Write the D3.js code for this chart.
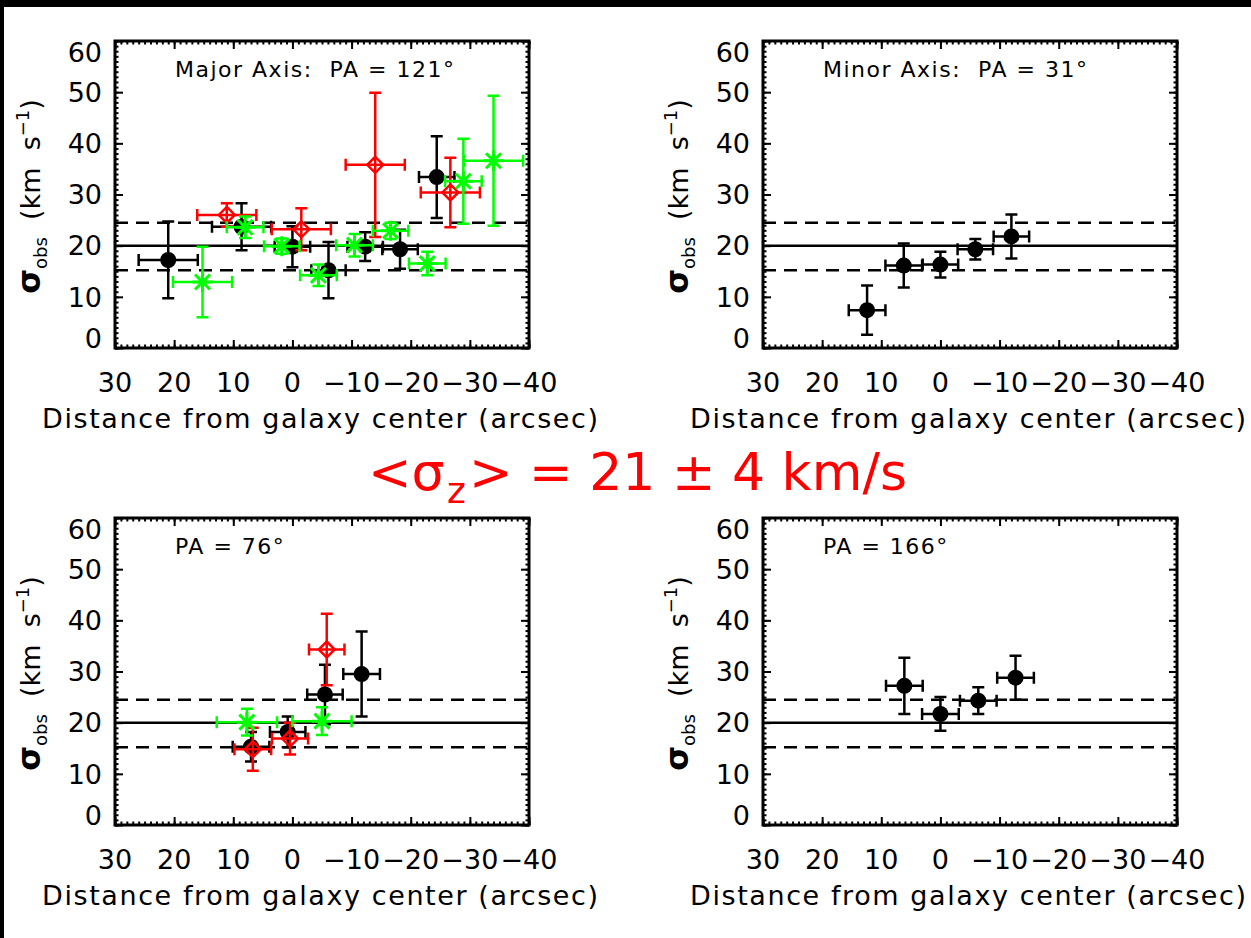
<!doctype html>
<html lang="en">
<head>
<meta charset="utf-8">
<script src="https://d3js.org/d3.v7.min.js"></script>
<style>
  body { margin: 0; background: #fff; }
  text { font-family: "DejaVu Sans", sans-serif; fill: black; }
</style>
</head>
<body>
<script>
// each row: [distance (arcsec), sigma_obs (km/s), x error, y error]
var majorBlack = [[21.0, 17.2, 5.0, 7.5], [8.6, 23.7, 5.0, 4.6], [0.0, 19.8, 3.0, 4.0],
                  [-6.1, 15.2, 2.9, 5.5], [-12.3, 19.8, 3.0, 2.8], [-18.2, 19.3, 3.0, 3.8],
                  [-24.4, 33.4, 3.0, 8.0]];
var majorRed = [[11.1, 26.0, 5.0, 2.3], [-1.5, 23.2, 5.0, 4.1], [-14.0, 35.8, 5.0, 14.1],
                [-26.7, 30.4, 5.0, 6.8]];
var majorGreen = [[15.2, 12.9, 5.0, 6.9], [8.0, 23.6, 3.1, 2.1], [1.8, 19.9, 3.0, 1.5],
                  [-4.4, 14.2, 3.1, 2.1], [-10.5, 20.1, 3.1, 2.2], [-16.6, 22.9, 3.0, 1.6],
                  [-22.8, 16.5, 3.1, 2.3], [-28.9, 32.6, 3.1, 8.3], [-34.0, 36.6, 5.0, 12.7]];
var minorBlack = [[12.4, 7.4, 3.1, 4.8], [6.2, 16.1, 3.1, 4.3], [0.0, 16.3, 3.0, 2.5],
                  [-5.9, 19.3, 3.0, 2.0], [-12.0, 21.8, 3.0, 4.3]];
var pa76Black = [[7.0, 15.3, 3.1, 2.9], [0.8, 18.2, 3.0, 3.0], [-5.5, 25.5, 3.0, 5.8],
                 [-11.7, 29.5, 3.1, 8.3]];
var pa76Red = [[6.7, 14.8, 3.1, 4.2], [0.4, 16.9, 3.05, 3.1], [-5.8, 34.3, 3.0, 7.0]];
var pa76Green = [[7.7, 20.1, 5.1, 2.6], [-5.0, 20.3, 5.0, 2.7]];
var pa166Black = [[6.1, 27.2, 3.1, 5.5], [0.0, 21.7, 3.1, 3.3], [-6.4, 24.3, 3.1, 2.6],
                  [-12.7, 28.8, 3.1, 4.3]];

var sigmaMean = 20, sigmaHi = 24.5, sigmaLo = 15.2;

var xTicks = [30, 20, 10, 0, -10, -20, -30, -40];
var xTickLabels = ["30", "20", "10", "0", "\u221210", "\u221220", "\u221230", "\u221240"];
var yTicks = [0, 10, 20, 30, 40, 50, 60];
var yTickLabels = ["0", "10", "20", "30", "40", "50", "60"];
var panelTitles = ["Major Axis:  PA = 121\u00b0", "Minor Axis:  PA = 31\u00b0", "PA = 76\u00b0", "PA = 166\u00b0"];

var width = 1251, height = 938;
var pw = 414, ph = 307;

var svg = d3.select("body").append("svg")
    .attr("width", width)
    .attr("height", height);

// black frame strips on top and left, as in the screenshot
svg.append("rect").attr("width", width).attr("height", height).attr("fill", "black");
svg.append("rect").attr("x", 4).attr("y", 7).attr("width", width).attr("height", height).attr("fill", "white");

var x = d3.scaleLinear().domain([30, -40]).range([0, pw]);
var y = d3.scaleLinear().domain([0, 60]).range([ph, 0]);

var panels = [
  {x0: 115, y0: 41, title: panelTitles[0], series: [[majorBlack, "black", "circle"], [majorRed, "#ff0000", "diamond"], [majorGreen, "#00ff00", "star"]]},
  {x0: 763, y0: 41, title: panelTitles[1], series: [[minorBlack, "black", "circle"]]},
  {x0: 115, y0: 518, title: panelTitles[2], series: [[pa76Black, "black", "circle"], [pa76Red, "#ff0000", "diamond"], [pa76Green, "#00ff00", "star"]]},
  {x0: 763, y0: 518, title: panelTitles[3], series: [[pa166Black, "black", "circle"]]}
];

function ticks(g, axisFn, scale, values, size, tx, ty) {
  g.append("g")
    .attr("transform", "translate(" + tx + "," + ty + ")")
    .call(axisFn(scale).tickValues(values).tickSize(size).tickFormat(""))
    .call(function(a) { a.select(".domain").remove(); })
    .selectAll("line").attr("stroke", "black").attr("stroke-width", 2);
}

panels.forEach(function(p) {
  var g = svg.append("g").attr("transform", "translate(" + p.x0 + "," + p.y0 + ")");

  // reference lines
  g.append("line").attr("x1", 0).attr("x2", pw).attr("y1", y(sigmaMean)).attr("y2", y(sigmaMean))
    .attr("stroke", "black").attr("stroke-width", 2.5);
  [sigmaHi, sigmaLo].forEach(function(v) {
    g.append("line").attr("x1", 0).attr("x2", pw).attr("y1", y(v)).attr("y2", y(v))
      .attr("stroke", "black").attr("stroke-width", 2.5).attr("stroke-dasharray", "13,8");
  });

  // data with error bars
  p.series.forEach(function(s) {
    var data = s[0], color = s[1], sym = s[2];
    var pts = g.append("g").selectAll("g").data(data).enter().append("g")
      .attr("stroke", color).attr("stroke-width", 2.5).attr("fill", "none");
    // horizontal error bar
    pts.append("path").attr("d", function(d) {
      var xa = x(d[0] + d[2]), xb = x(d[0] - d[2]), yy = y(d[1]);
      return "M" + xa + "," + yy + "H" + xb +
             "M" + xa + "," + (yy - 6) + "V" + (yy + 6) +
             "M" + xb + "," + (yy - 6) + "V" + (yy + 6);
    });
    // vertical error bar
    pts.append("path").attr("d", function(d) {
      var xx = x(d[0]), ya = y(d[1] + d[3]), yb = y(d[1] - d[3]);
      return "M" + xx + "," + ya + "V" + yb +
             "M" + (xx - 6) + "," + ya + "H" + (xx + 6) +
             "M" + (xx - 6) + "," + yb + "H" + (xx + 6);
    });
    if (sym === "circle") {
      pts.append("circle").attr("cx", function(d) { return x(d[0]); })
        .attr("cy", function(d) { return y(d[1]); })
        .attr("r", 8).attr("fill", color).attr("stroke", "none");
    } else if (sym === "diamond") {
      pts.append("path").attr("d", function(d) {
        var cx = x(d[0]), cy = y(d[1]);
        return "M" + cx + "," + (cy - 8) + "L" + (cx + 8) + "," + cy + "L" + cx + "," + (cy + 8) + "L" + (cx - 8) + "," + cy + "Z";
      });
    } else {
      pts.append("path").attr("stroke-width", 3).attr("d", function(d) {
        var cx = x(d[0]), cy = y(d[1]), r = 10, q = 7.5;
        return "M" + (cx - r) + "," + cy + "H" + (cx + r) +
               "M" + cx + "," + (cy - r) + "V" + (cy + r) +
               "M" + (cx - q) + "," + (cy - q) + "L" + (cx + q) + "," + (cy + q) +
               "M" + (cx - q) + "," + (cy + q) + "L" + (cx + q) + "," + (cy - q);
      });
    }
  });

  // ticks on all four sides (minor every unit, major every 10)
  var xMinor = d3.range(-40, 31), yMinor = d3.range(0, 61);
  ticks(g, d3.axisBottom, x, xMinor, -3.5, 0, ph);
  ticks(g, d3.axisTop, x, xMinor, -3.5, 0, 0);
  ticks(g, d3.axisLeft, y, yMinor, -3.5, 0, 0);
  ticks(g, d3.axisRight, y, yMinor, -3.5, pw, 0);
  ticks(g, d3.axisBottom, x, xTicks, -8, 0, ph);
  ticks(g, d3.axisTop, x, xTicks, -8, 0, 0);
  ticks(g, d3.axisLeft, y, yTicks, -8, 0, 0);
  ticks(g, d3.axisRight, y, yTicks, -8, pw, 0);

  g.append("rect").attr("width", pw).attr("height", ph)
    .attr("fill", "none").attr("stroke", "black").attr("stroke-width", 3);

  // tick labels
  g.selectAll(".xl").data(xTicks).enter().append("text")
    .attr("x", function(d) { return x(d); })
    .attr("y", ph + 44)
    .attr("text-anchor", "middle")
    .style("font-size", "27px")
    .text(function(d, i) { return xTickLabels[i]; });

  g.selectAll(".yl").data(yTicks).enter().append("text")
    .attr("x", -13)
    .attr("y", function(d) { return y(d) + (d === 60 ? 11 : d === 0 ? -10 : 0); })
    .attr("dy", "0.36em")
    .attr("text-anchor", "end")
    .style("font-size", "27px")
    .text(function(d, i) { return yTickLabels[i]; });

  // axis titles
  g.append("text")
    .attr("x", pw / 2 - 2).attr("y", ph + 80)
    .attr("text-anchor", "middle")
    .attr("textLength", 556).attr("lengthAdjust", "spacing")
    .style("font-size", "27px")
    .text("Distance from galaxy center (arcsec)");

  var yt = g.append("text")
    .attr("transform", "translate(-75," + (ph / 2 + 2) + ") rotate(-90)")
    .attr("text-anchor", "middle")
    .style("white-space", "pre")
    .style("font-size", "27px");
  yt.append("tspan").style("font-size", "32px").style("font-weight", "bold").text("\u03c3");
  yt.append("tspan").style("font-size", "18px").attr("dy", 7).text("obs");
  yt.append("tspan").attr("dy", -7).text("  (km  s");
  yt.append("tspan").style("font-size", "18px").attr("dy", -11).text("\u22121");
  yt.append("tspan").attr("dy", 11).text(")");

  // panel title
  g.append("text")
    .attr("x", 60).attr("y", 36)
    .style("font-size", "22px")
    .style("letter-spacing", "1.5px")
    .style("white-space", "pre")
    .text(p.title);
});

// central result, in three pieces so the subscript sits between them
var res = svg.append("g").style("font-size", "52px");
res.append("text").attr("x", 368).attr("y", 490)
  .style("fill", "#ff0000").text("<\u03c3");
res.append("text").attr("x", 447).attr("y", 503)
  .style("font-size", "36px")
  .style("fill", "#ff0000").text("z");
res.append("text").attr("x", 469).attr("y", 490)
  .style("fill", "#ff0000").text("> = 21 \u00b1 4 km/s");
</script>
</body>
</html>
